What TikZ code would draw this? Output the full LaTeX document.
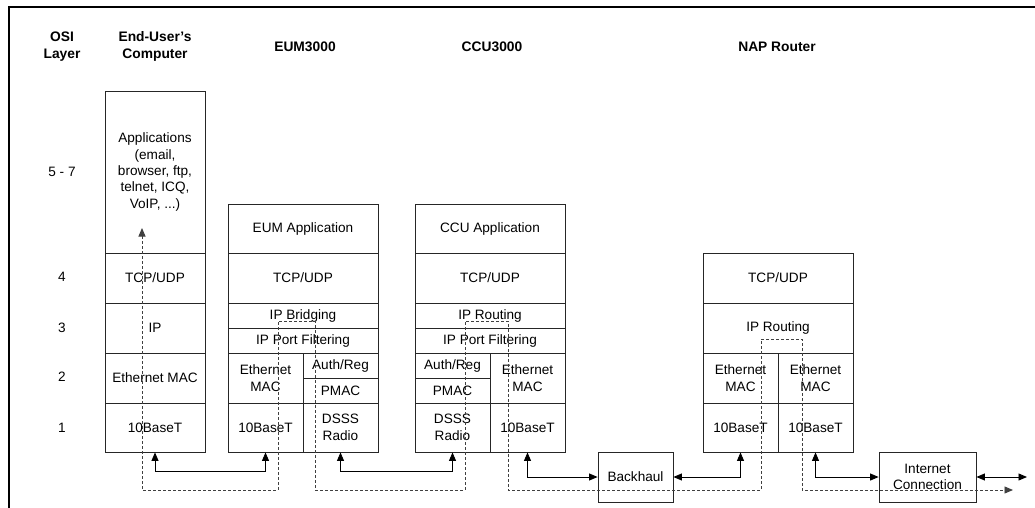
\documentclass[tikz,border=0pt]{standalone}
\usepackage{fontspec}
\setmainfont{Liberation Sans}[Ligatures=ResetAll]
\usetikzlibrary{arrows.meta}
\begin{document}
\begin{tikzpicture}[x=1pt,y=-1pt,
  every node/.style={font=\fontsize{13.6}{16.4}\selectfont, inner sep=0pt, align=center},
  cell/.style={draw=black!85, line width=0.8pt},
  head/.style={font=\fontsize{13.8}{17}\selectfont\bfseries},
  link/.style={line width=0.9pt, {Triangle[length=8.5pt,width=7pt]}-{Triangle[length=8.5pt,width=7pt]}},
  trace/.style={line width=0.9pt, black!75, dash pattern=on 3pt off 2pt,
    {Triangle[length=8.5pt,width=7pt]}-{Triangle[length=8.5pt,width=7pt]}}]
\useasboundingbox (0,0) rectangle (1035,508);
% frame
\draw[line width=2pt] (9,508) -- (9,6.7) -- (1035,6.7);
% column headings
\node[head] (hosi) at (62,46.5) {OSI\\Layer};
\node[head] (heu) at (155,46.5) {End-User's\\Computer};
\node[head] (heum) at (305,47) {EUM3000};
\node[head] (hccu) at (492,47) {CCU3000};
\node[head] (hnap) at (777,47) {NAP Router};
% layer numbers
\node (l57) at (62,172) {5 - 7};
\node (l4) at (62,277) {4};
\node (l3) at (62,328) {3};
\node (l2) at (62,377) {2};
\node (l1) at (62,428) {1};
% cell macro: name, left, top, right, bottom, text
\newcommand{\layercell}[6]{%
  \node[cell, minimum width={#4-#2}, minimum height={#5-#3}] (#1) at ({(#2+#4)/2},{(#3+#5)/2}) {#6};}
% end-user's computer
\layercell{eu7}{105}{91}{205}{253}{Applications\\(email,\\browser, ftp,\\telnet, ICQ,\\VoIP, ...)}
\layercell{eu4}{105}{253}{205}{303}{TCP/UDP}
\layercell{eu3}{105}{303}{205}{353}{IP}
\layercell{eu2}{105}{353}{205}{403}{Ethernet MAC}
\layercell{eu1}{105}{403}{205}{452}{10BaseT}
% EUM3000
\layercell{eum7}{228}{204}{378}{253}{EUM Application}
\layercell{eum4}{228}{253}{378}{303}{TCP/UDP}
\layercell{eum3a}{228}{303}{378}{328}{IP Bridging}
\layercell{eum3b}{228}{328}{378}{353}{IP Port Filtering}
\layercell{eum2l}{228}{353}{303}{403}{Ethernet\\MAC}
\layercell{eum2a}{303}{353}{378}{378}{Auth/Reg}
\layercell{eum2b}{303}{378}{378}{403}{PMAC}
\layercell{eum1l}{228}{403}{303}{452}{10BaseT}
\layercell{eum1r}{303}{403}{378}{452}{DSSS\\Radio}
% CCU3000
\layercell{ccu7}{415}{204}{565}{253}{CCU Application}
\layercell{ccu4}{415}{253}{565}{303}{TCP/UDP}
\layercell{ccu3a}{415}{303}{565}{328}{IP Routing}
\layercell{ccu3b}{415}{328}{565}{353}{IP Port Filtering}
\layercell{ccu2a}{415}{353}{490}{378}{Auth/Reg}
\layercell{ccu2b}{415}{378}{490}{403}{PMAC}
\layercell{ccu2r}{490}{353}{565}{403}{Ethernet\\MAC}
\layercell{ccu1l}{415}{403}{490}{452}{DSSS\\Radio}
\layercell{ccu1r}{490}{403}{565}{452}{10BaseT}
% NAP router
\layercell{nap4}{703}{253}{853}{303}{TCP/UDP}
\layercell{nap3}{703}{303}{853}{353}{IP Routing}
\layercell{nap2l}{703}{353}{778}{403}{Ethernet\\MAC}
\layercell{nap2r}{778}{353}{853}{403}{Ethernet\\MAC}
\layercell{nap1l}{703}{403}{778}{452}{10BaseT}
\layercell{nap1r}{778}{403}{853}{452}{10BaseT}
% external boxes
\layercell{bh}{598}{452}{673}{502}{Backhaul}
\layercell{inet}{879}{452}{976}{502}{Internet\\Connection}
% physical links
\draw[link] (eu1.south) -- ++(0,19) -| (eum1l.south);
\draw[link] (eum1r.south) -- ++(0,19) -| (ccu1l.south);
\draw[link] (ccu1r.south) |- (bh.west);
\draw[link] (bh.east) -| (nap1l.south);
\draw[link] (nap1r.south) |- (inet.west);
\coordinate (net) at (1027,477);
\draw[link] (inet.east) -- (net);
% end-to-end data path
\coordinate (tstart) at (142,228);
\coordinate (tend) at (1013,490);
\draw[trace] (tstart) -- (142,490) -- (278,490) -- (278,321) -- (315,321) -- (315,490)
  -- (465,490) -- (465,321) -- (508,321) -- (508,490) -- (761,490) -- (761,339)
  -- (802,339) -- (802,490) -- (tend);
\end{tikzpicture}
\end{document}
